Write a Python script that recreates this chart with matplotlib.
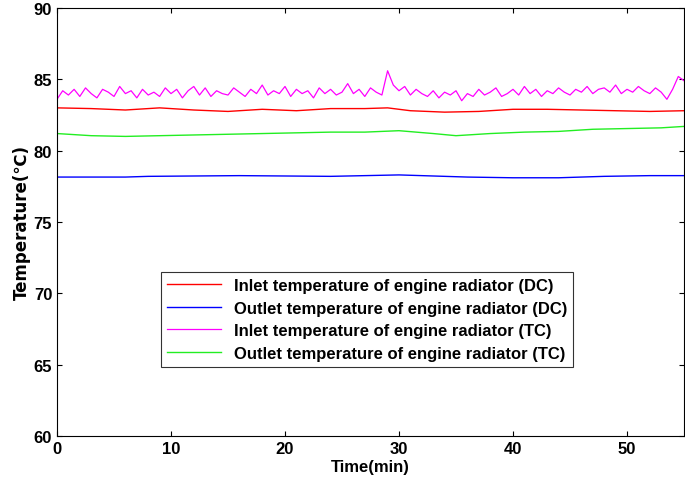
import matplotlib
matplotlib.use("Agg")
import matplotlib.pyplot as plt
import numpy as np

plt.rcParams['font.family'] = 'Liberation Sans'
plt.rcParams['font.weight'] = 'bold'

# time grid (min), 0.5-min steps
time = np.arange(0, 55.01, 0.5)

inlet_tc = [83.6,84.2,83.9,84.3,83.8,84.4,84.0,83.7,84.3,84.1,
            83.8,84.5,84.0,84.2,83.7,84.3,83.9,84.1,83.8,84.4,
            84.0,84.3,83.7,84.2,84.5,83.9,84.4,83.8,84.2,84.0,
            83.9,84.4,84.1,83.8,84.3,84.0,84.6,83.9,84.2,84.0,
            84.5,83.8,84.3,84.0,84.2,83.7,84.4,84.0,84.3,83.9,
            84.1,84.7,84.0,84.3,83.8,84.4,84.1,83.9,85.6,84.6,
            84.2,84.5,83.9,84.3,84.0,83.8,84.2,83.7,84.1,83.9,
            84.2,83.5,84.0,83.8,84.3,83.9,84.1,84.4,83.8,84.0,
            84.3,83.9,84.5,84.0,84.3,83.8,84.2,84.0,84.4,84.1,
            83.9,84.3,84.1,84.5,84.0,84.3,84.4,84.1,84.6,84.0,
            84.3,84.1,84.5,84.2,84.0,84.4,84.1,83.6,84.3,85.2,84.9]
inlet_dc_t = [0,3,6,9,12,15,18,21,24,27,29,31,34,37,40,43,46,49,52,55]
inlet_dc   = [83.0,82.95,82.85,83.0,82.85,82.75,82.9,82.8,82.95,82.95,
              83.0,82.8,82.7,82.75,82.9,82.9,82.85,82.8,82.75,82.8]
outlet_tc_t = [0,3,6,9,12,15,18,21,24,27,30,33,35,38,41,44,47,50,53,55]
outlet_tc   = [81.2,81.05,81.0,81.05,81.1,81.15,81.2,81.25,81.3,81.3,
               81.4,81.2,81.05,81.2,81.3,81.35,81.5,81.55,81.6,81.7]
outlet_dc_t = [0,6,8,16,24,30,36,40,44,48,52,55]
outlet_dc   = [78.15,78.15,78.2,78.25,78.2,78.3,78.15,78.1,78.1,78.2,78.25,78.25]

fig = plt.figure(figsize=(6.85, 4.89), dpi=100)
ax = fig.add_axes([57/685, 52/489, 627/685, 428/489])
ax.plot(inlet_dc_t, inlet_dc, color='red', lw=1, label='Inlet temperature of engine radiator (DC)')
ax.plot(outlet_dc_t, outlet_dc, color='blue', lw=1, label='Outlet temperature of engine radiator (DC)')
ax.plot(time, inlet_tc, color='magenta', lw=0.9, label='Inlet temperature of engine radiator (TC)')
ax.plot(outlet_tc_t, outlet_tc, color='#22ee22', lw=1, label='Outlet temperature of engine radiator (TC)')
ax.set_xlim(0, 55)
ax.set_ylim(60, 90)
ax.set_xticks([0, 10, 20, 30, 40, 50])
ax.set_yticks(range(60, 91, 5))
ax.tick_params(direction='in', labelsize=12, top=True, right=True)
ax.set_xlabel('Time(min)', fontsize=12, fontweight='bold', labelpad=2)
ax.set_ylabel('Temperature(℃)', fontsize=12, fontweight='bold', fontfamily='Noto Sans CJK SC', labelpad=2)
leg = ax.legend(loc='upper left', bbox_to_anchor=(96/627, 172/428), fontsize=12,
                frameon=True, fancybox=False, edgecolor='black', handlelength=3.2,
                borderpad=0.35, labelspacing=0.45)
leg.get_frame().set_linewidth(0.8)
fig.savefig('out.png', dpi=100)
